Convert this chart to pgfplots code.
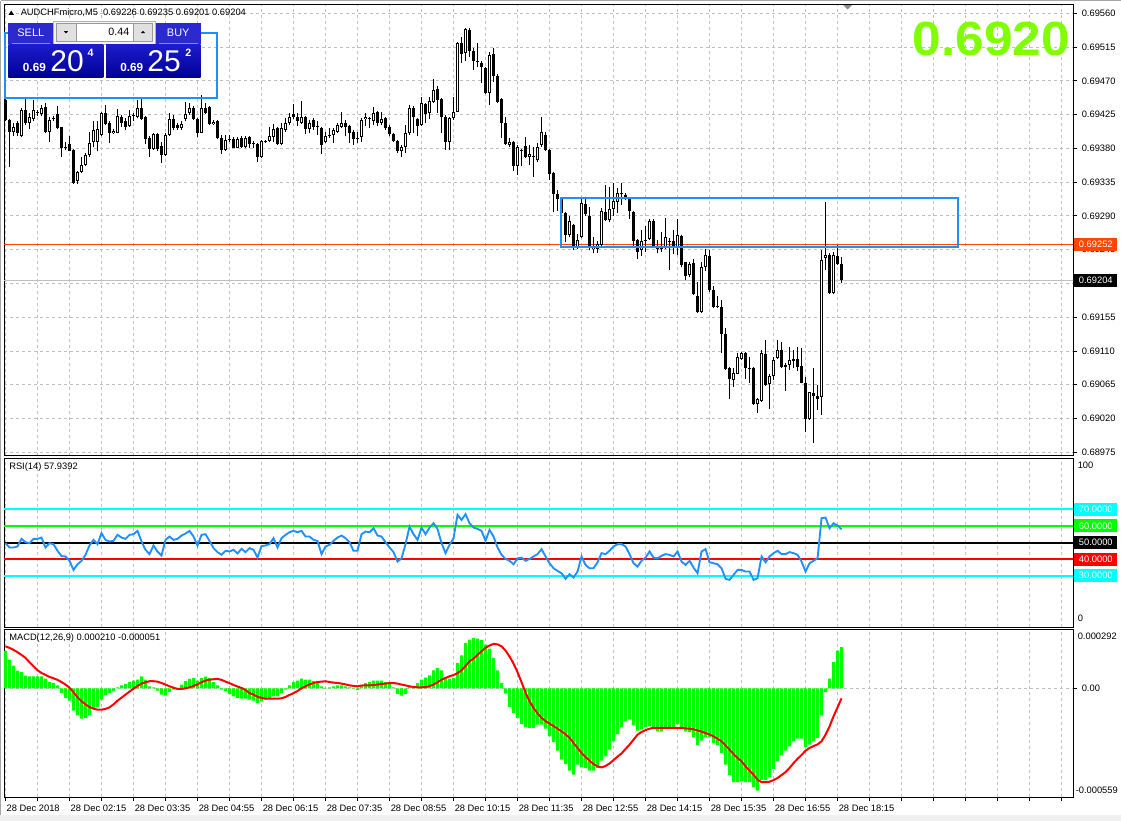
\documentclass[border=0pt]{standalone}
\usepackage{pgfplots}
\pgfplotsset{compat=1.18}
\usepackage{pgfplotstable}
\usepackage{fontspec}
\setmainfont{Liberation Sans}
\usepackage{graphicx}

\definecolor{gridc}{RGB}{192,192,192}
\definecolor{dblue}{RGB}{30,144,255}
\definecolor{ored}{RGB}{255,69,0}
\definecolor{lgreen}{RGB}{127,255,0}
\definecolor{limec}{RGB}{0,255,0}
\definecolor{aqua}{RGB}{0,255,255}
\definecolor{pure red}{RGB}{255,0,0}
\definecolor{btnblue}{RGB}{42,42,206}
\definecolor{boxtop}{RGB}{28,28,205}
\definecolor{boxbot}{RGB}{0,0,150}

\newcommand{\lab}{\fontsize{7}{8.4}\selectfont}

\pgfplotstableread{
i o h l c
0 0.69445 0.69451 0.69416 0.69418
1 0.69418 0.69419 0.69355 0.69402
2 0.69402 0.69414 0.69396 0.69408
3 0.69414 0.69416 0.69396 0.69401
4 0.69396 0.69434 0.69395 0.69431
5 0.69431 0.69449 0.69411 0.69414
6 0.69414 0.69427 0.69406 0.69422
7 0.69419 0.69445 0.69416 0.69431
8 0.69428 0.69431 0.69423 0.69427
9 0.69426 0.69438 0.69423 0.69434
10 0.69435 0.69440 0.69401 0.69402
11 0.69402 0.69422 0.69389 0.69418
12 0.69420 0.69423 0.69416 0.69421
13 0.69426 0.69437 0.69406 0.69407
14 0.69408 0.69409 0.69368 0.69380
15 0.69382 0.69389 0.69378 0.69381
16 0.69386 0.69396 0.69376 0.69377
17 0.69378 0.69379 0.69333 0.69334
18 0.69336 0.69350 0.69333 0.69348
19 0.69349 0.69369 0.69347 0.69358
20 0.69358 0.69374 0.69356 0.69371
21 0.69371 0.69402 0.69369 0.69387
22 0.69388 0.69416 0.69382 0.69404
23 0.69388 0.69416 0.69376 0.69406
24 0.69398 0.69428 0.69396 0.69427
25 0.69427 0.69438 0.69411 0.69413
26 0.69414 0.69416 0.69387 0.69400
27 0.69400 0.69406 0.69399 0.69403
28 0.69401 0.69432 0.69400 0.69423
29 0.69422 0.69425 0.69409 0.69414
30 0.69416 0.69420 0.69404 0.69409
31 0.69410 0.69431 0.69408 0.69423
32 0.69424 0.69427 0.69416 0.69425
33 0.69422 0.69445 0.69420 0.69434
34 0.69434 0.69447 0.69418 0.69419
35 0.69422 0.69423 0.69386 0.69392
36 0.69394 0.69396 0.69369 0.69379
37 0.69379 0.69400 0.69378 0.69399
38 0.69399 0.69401 0.69377 0.69379
39 0.69383 0.69389 0.69361 0.69371
40 0.69371 0.69400 0.69370 0.69398
41 0.69398 0.69427 0.69396 0.69419
42 0.69419 0.69425 0.69404 0.69407
43 0.69411 0.69414 0.69405 0.69407
44 0.69407 0.69416 0.69404 0.69413
45 0.69419 0.69442 0.69416 0.69426
46 0.69427 0.69440 0.69425 0.69434
47 0.69434 0.69436 0.69418 0.69419
48 0.69419 0.69420 0.69395 0.69401
49 0.69401 0.69451 0.69400 0.69434
50 0.69434 0.69440 0.69426 0.69427
51 0.69435 0.69436 0.69411 0.69412
52 0.69412 0.69418 0.69411 0.69415
53 0.69416 0.69418 0.69392 0.69394
54 0.69394 0.69398 0.69373 0.69378
55 0.69378 0.69398 0.69377 0.69391
56 0.69391 0.69398 0.69389 0.69392
57 0.69392 0.69395 0.69380 0.69381
58 0.69381 0.69395 0.69380 0.69392
59 0.69394 0.69396 0.69381 0.69382
60 0.69382 0.69396 0.69380 0.69394
61 0.69395 0.69396 0.69381 0.69386
62 0.69387 0.69390 0.69380 0.69386
63 0.69386 0.69387 0.69362 0.69368
64 0.69368 0.69391 0.69367 0.69390
65 0.69389 0.69391 0.69387 0.69390
66 0.69390 0.69409 0.69388 0.69396
67 0.69395 0.69413 0.69389 0.69406
68 0.69407 0.69408 0.69385 0.69386
69 0.69386 0.69414 0.69384 0.69407
70 0.69405 0.69420 0.69402 0.69414
71 0.69414 0.69427 0.69411 0.69422
72 0.69426 0.69439 0.69419 0.69422
73 0.69422 0.69427 0.69410 0.69416
74 0.69414 0.69443 0.69413 0.69422
75 0.69422 0.69423 0.69399 0.69406
76 0.69406 0.69418 0.69400 0.69414
77 0.69418 0.69420 0.69405 0.69408
78 0.69410 0.69416 0.69398 0.69408
79 0.69407 0.69409 0.69372 0.69384
80 0.69388 0.69402 0.69387 0.69397
81 0.69396 0.69407 0.69394 0.69398
82 0.69398 0.69407 0.69387 0.69405
83 0.69402 0.69414 0.69401 0.69411
84 0.69409 0.69429 0.69407 0.69414
85 0.69414 0.69418 0.69396 0.69408
86 0.69410 0.69411 0.69387 0.69401
87 0.69402 0.69404 0.69385 0.69392
88 0.69393 0.69402 0.69387 0.69394
89 0.69395 0.69420 0.69389 0.69418
90 0.69419 0.69427 0.69410 0.69422
91 0.69420 0.69422 0.69407 0.69421
92 0.69417 0.69435 0.69411 0.69427
93 0.69428 0.69430 0.69410 0.69414
94 0.69414 0.69429 0.69411 0.69419
95 0.69420 0.69422 0.69404 0.69407
96 0.69408 0.69411 0.69396 0.69399
97 0.69399 0.69400 0.69388 0.69390
98 0.69390 0.69391 0.69374 0.69377
99 0.69376 0.69385 0.69368 0.69382
100 0.69382 0.69411 0.69374 0.69400
101 0.69400 0.69438 0.69398 0.69434
102 0.69434 0.69436 0.69400 0.69422
103 0.69419 0.69420 0.69396 0.69410
104 0.69411 0.69449 0.69410 0.69440
105 0.69439 0.69441 0.69414 0.69426
106 0.69427 0.69449 0.69419 0.69443
107 0.69442 0.69473 0.69441 0.69458
108 0.69459 0.69463 0.69427 0.69445
109 0.69446 0.69447 0.69400 0.69422
110 0.69422 0.69425 0.69378 0.69389
111 0.69389 0.69422 0.69378 0.69420
112 0.69420 0.69449 0.69418 0.69429
113 0.69429 0.69522 0.69428 0.69521
114 0.69520 0.69529 0.69494 0.69506
115 0.69507 0.69540 0.69496 0.69539
116 0.69538 0.69540 0.69502 0.69510
117 0.69510 0.69514 0.69485 0.69496
118 0.69497 0.69521 0.69489 0.69495
119 0.69494 0.69497 0.69467 0.69488
120 0.69487 0.69489 0.69453 0.69454
121 0.69454 0.69509 0.69438 0.69505
122 0.69506 0.69514 0.69469 0.69477
123 0.69477 0.69479 0.69440 0.69442
124 0.69446 0.69447 0.69394 0.69414
125 0.69414 0.69422 0.69385 0.69386
126 0.69385 0.69394 0.69382 0.69389
127 0.69389 0.69390 0.69350 0.69357
128 0.69357 0.69385 0.69345 0.69382
129 0.69377 0.69379 0.69356 0.69378
130 0.69383 0.69395 0.69367 0.69368
131 0.69368 0.69385 0.69358 0.69372
132 0.69369 0.69382 0.69342 0.69370
133 0.69364 0.69387 0.69362 0.69382
134 0.69385 0.69422 0.69382 0.69402
135 0.69398 0.69402 0.69376 0.69378
136 0.69378 0.69379 0.69338 0.69346
137 0.69347 0.69348 0.69295 0.69319
138 0.69319 0.69325 0.69297 0.69312
139 0.69312 0.69314 0.69289 0.69294
140 0.69294 0.69295 0.69255 0.69264
141 0.69264 0.69290 0.69262 0.69283
142 0.69278 0.69279 0.69245 0.69250
143 0.69247 0.69266 0.69246 0.69258
144 0.69262 0.69312 0.69260 0.69307
145 0.69306 0.69314 0.69290 0.69292
146 0.69290 0.69302 0.69244 0.69249
147 0.69246 0.69262 0.69240 0.69249
148 0.69246 0.69257 0.69240 0.69252
149 0.69251 0.69300 0.69250 0.69297
150 0.69295 0.69331 0.69283 0.69285
151 0.69285 0.69329 0.69282 0.69299
152 0.69299 0.69334 0.69290 0.69310
153 0.69309 0.69327 0.69294 0.69320
154 0.69319 0.69334 0.69305 0.69320
155 0.69318 0.69321 0.69311 0.69312
156 0.69312 0.69314 0.69286 0.69297
157 0.69295 0.69296 0.69250 0.69257
158 0.69258 0.69259 0.69232 0.69242
159 0.69244 0.69271 0.69237 0.69256
160 0.69256 0.69276 0.69242 0.69258
161 0.69259 0.69286 0.69258 0.69283
162 0.69283 0.69286 0.69247 0.69249
163 0.69250 0.69258 0.69240 0.69246
164 0.69246 0.69269 0.69242 0.69248
165 0.69247 0.69287 0.69246 0.69262
166 0.69257 0.69260 0.69218 0.69256
167 0.69257 0.69271 0.69239 0.69249
168 0.69249 0.69286 0.69238 0.69265
169 0.69263 0.69265 0.69222 0.69224
170 0.69228 0.69229 0.69204 0.69210
171 0.69211 0.69228 0.69209 0.69226
172 0.69227 0.69232 0.69185 0.69186
173 0.69183 0.69202 0.69161 0.69162
174 0.69162 0.69228 0.69161 0.69222
175 0.69222 0.69246 0.69216 0.69238
176 0.69237 0.69244 0.69189 0.69191
177 0.69191 0.69196 0.69167 0.69168
178 0.69170 0.69183 0.69167 0.69169
179 0.69168 0.69178 0.69108 0.69133
180 0.69133 0.69140 0.69085 0.69086
181 0.69087 0.69089 0.69046 0.69073
182 0.69072 0.69087 0.69062 0.69081
183 0.69080 0.69107 0.69079 0.69102
184 0.69100 0.69109 0.69098 0.69107
185 0.69108 0.69109 0.69073 0.69087
186 0.69087 0.69102 0.69068 0.69086
187 0.69088 0.69089 0.69038 0.69039
188 0.69039 0.69047 0.69027 0.69046
189 0.69044 0.69111 0.69042 0.69108
190 0.69106 0.69125 0.69063 0.69065
191 0.69066 0.69080 0.69033 0.69077
192 0.69077 0.69102 0.69071 0.69098
193 0.69101 0.69125 0.69100 0.69112
194 0.69112 0.69122 0.69088 0.69089
195 0.69091 0.69094 0.69057 0.69089
196 0.69092 0.69116 0.69085 0.69098
197 0.69097 0.69111 0.69087 0.69099
198 0.69099 0.69115 0.69083 0.69089
199 0.69090 0.69114 0.69067 0.69068
200 0.69068 0.69076 0.69002 0.69019
201 0.69019 0.69056 0.69018 0.69055
202 0.69054 0.69088 0.68987 0.69050
203 0.69050 0.69065 0.69032 0.69046
204 0.69049 0.69245 0.69025 0.69231
205 0.69234 0.69309 0.69218 0.69238
206 0.69238 0.69240 0.69186 0.69187
207 0.69187 0.69242 0.69186 0.69238
208 0.69237 0.69251 0.69225 0.69226
209 0.69226 0.69235 0.69201 0.69204
}\candles

\pgfplotstableread{
i r
0 49.6
1 47.0
2 47.0
3 47.6
4 52.2
5 50.2
6 49.6
7 52.2
8 52.2
9 53.0
10 47.0
11 49.6
12 49.0
13 45.0
14 41.8
15 41.6
16 39.0
17 33.5
18 36.9
19 38.9
20 42.6
21 48.2
22 51.6
23 49.0
24 55.6
25 51.6
26 50.6
27 51.0
28 54.6
29 53.0
30 52.2
31 54.6
32 55.0
33 57.0
34 50.6
35 45.6
36 43.0
37 48.2
38 44.6
39 42.2
40 51.6
41 53.6
42 51.6
43 52.2
44 54.2
45 55.4
46 57.0
47 53.6
48 48.2
49 54.6
50 55.0
51 51.0
52 46.6
53 44.2
54 42.6
55 45.0
56 44.6
57 45.6
58 43.4
59 46.2
60 44.2
61 46.6
62 45.6
63 41.0
64 47.8
65 48.2
66 49.0
67 52.6
68 47.0
69 52.6
70 54.6
71 56.2
72 57.0
73 56.2
74 57.0
75 53.6
76 53.6
77 51.6
78 51.0
79 43.0
80 47.6
81 48.6
82 51.0
83 53.0
84 54.2
85 52.6
86 50.2
87 45.0
88 45.0
89 55.0
90 56.6
91 56.2
92 58.6
93 54.2
94 53.6
95 50.2
96 47.0
97 44.2
98 38.5
99 40.5
100 49.0
101 59.6
102 55.0
103 51.6
104 59.0
105 55.0
106 59.0
107 61.6
108 58.2
109 49.6
110 43.6
111 48.6
112 52.6
113 66.7
114 63.6
115 67.1
116 61.6
117 59.0
118 58.2
119 57.0
120 51.0
121 57.6
122 53.6
123 47.0
124 42.6
125 40.1
126 39.0
127 36.9
128 40.5
129 40.9
130 39.0
131 40.1
132 41.6
133 43.0
134 46.0
135 41.6
136 37.5
137 34.5
138 32.9
139 31.5
140 28.1
141 30.9
142 28.9
143 32.5
144 41.6
145 36.5
146 34.5
147 34.5
148 38.1
149 43.6
150 43.0
151 45.0
152 47.6
153 49.0
154 49.0
155 47.6
156 43.0
157 37.5
158 35.5
159 39.0
160 40.9
161 44.6
162 40.9
163 40.5
164 42.0
165 43.0
166 42.6
167 41.6
168 44.6
169 38.5
170 36.5
171 39.0
172 34.9
173 31.5
174 44.6
175 46.0
176 38.1
177 37.5
178 36.9
179 34.5
180 28.1
181 27.5
182 30.5
183 33.5
184 33.5
185 32.5
186 32.5
187 27.5
188 28.5
189 41.6
190 38.1
191 41.6
192 43.6
193 45.0
194 43.0
195 43.0
196 44.2
197 43.6
198 42.6
199 38.5
200 32.5
201 37.5
202 39.0
203 40.5
204 64.7
205 65.0
206 58.6
207 61.6
208 60.2
209 57.94
}\rsi

\pgfplotstableread{
i m s
0 0.000189 0.000214
1 0.000143 0.000206
2 0.000116 0.000196
3 0.000090 0.000184
4 0.000082 0.000170
5 0.000065 0.000155
6 0.000061 0.000133
7 0.000061 0.000112
8 0.000061 0.000092
9 0.000061 0.000078
10 0.000049 0.000068
11 0.000032 0.000058
12 0.000027 0.000051
13 0.000015 0.000043
14 -0.000024 0.000032
15 -0.000049 0.000019
16 -0.000063 0.000003
17 -0.000114 -0.000020
18 -0.000138 -0.000046
19 -0.000155 -0.000066
20 -0.000151 -0.000082
21 -0.000138 -0.000095
22 -0.000105 -0.000104
23 -0.000097 -0.000109
24 -0.000058 -0.000109
25 -0.000036 -0.000105
26 -0.000024 -0.000097
27 -0.000015 -0.000082
28 0.000005 -0.000063
29 0.000015 -0.000048
30 0.000022 -0.000032
31 0.000032 -0.000017
32 0.000039 -0.000002
33 0.000044 0.000012
34 0.000061 0.000024
35 0.000044 0.000031
36 0.000010 0.000036
37 0.000005 0.000036
38 -0.000012 0.000034
39 -0.000032 0.000027
40 -0.000037 0.000019
41 -0.000019 0.000010
42 -0.000007 0.000003
43 -0.000002 -0.000003
44 0.000019 -0.000003
45 0.000036 0.000000
46 0.000048 0.000005
47 0.000053 0.000012
48 0.000039 0.000020
49 0.000053 0.000031
50 0.000060 0.000039
51 0.000053 0.000044
52 0.000031 0.000046
53 0.000015 0.000048
54 -0.000007 0.000043
55 -0.000015 0.000034
56 -0.000029 0.000026
57 -0.000041 0.000017
58 -0.000049 0.000009
59 -0.000053 0.000002
60 -0.000053 -0.000009
61 -0.000058 -0.000024
62 -0.000063 -0.000032
63 -0.000075 -0.000043
64 -0.000066 -0.000049
65 -0.000058 -0.000053
66 -0.000053 -0.000053
67 -0.000041 -0.000053
68 -0.000041 -0.000053
69 -0.000024 -0.000051
70 -0.000007 -0.000044
71 0.000015 -0.000034
72 0.000032 -0.000024
73 0.000039 -0.000014
74 0.000049 0.000000
75 0.000044 0.000010
76 0.000044 0.000020
77 0.000036 0.000027
78 0.000027 0.000032
79 0.000010 0.000034
80 0.000002 0.000036
81 0.000005 0.000032
82 0.000010 0.000029
83 0.000015 0.000027
84 0.000015 0.000024
85 0.000010 0.000020
86 0.000005 0.000015
87 -0.000002 0.000012
88 -0.000008 0.000010
89 0.000010 0.000014
90 0.000027 0.000015
91 0.000032 0.000015
92 0.000039 0.000017
93 0.000039 0.000019
94 0.000039 0.000022
95 0.000032 0.000024
96 0.000022 0.000027
97 0.000005 0.000027
98 -0.000029 0.000024
99 -0.000037 0.000019
100 -0.000029 0.000015
101 0.000010 0.000010
102 0.000002 0.000007
103 0.000027 0.000005
104 0.000044 0.000005
105 0.000055 0.000006
106 0.000066 0.000011
107 0.000092 0.000019
108 0.000104 0.000031
109 0.000092 0.000044
110 0.000053 0.000053
111 0.000049 0.000061
112 0.000053 0.000068
113 0.000129 0.000077
114 0.000168 0.000092
115 0.000231 0.000114
116 0.000248 0.000138
117 0.000257 0.000151
118 0.000253 0.000170
119 0.000245 0.000189
120 0.000223 0.000207
121 0.000202 0.000218
122 0.000155 0.000226
123 0.000092 0.000224
124 0.000027 0.000214
125 -0.000027 0.000192
126 -0.000095 0.000162
127 -0.000126 0.000126
128 -0.000151 0.000082
129 -0.000182 0.000031
130 -0.000199 -0.000022
131 -0.000202 -0.000066
132 -0.000202 -0.000100
133 -0.000185 -0.000128
134 -0.000185 -0.000151
135 -0.000206 -0.000167
136 -0.000245 -0.000180
137 -0.000274 -0.000192
138 -0.000318 -0.000206
139 -0.000364 -0.000219
140 -0.000386 -0.000235
141 -0.000420 -0.000252
142 -0.000440 -0.000279
143 -0.000389 -0.000303
144 -0.000403 -0.000330
145 -0.000406 -0.000350
146 -0.000420 -0.000369
147 -0.000420 -0.000386
148 -0.000406 -0.000398
149 -0.000369 -0.000403
150 -0.000347 -0.000396
151 -0.000313 -0.000383
152 -0.000270 -0.000366
153 -0.000233 -0.000348
154 -0.000199 -0.000332
155 -0.000168 -0.000309
156 -0.000160 -0.000287
157 -0.000189 -0.000262
158 -0.000216 -0.000236
159 -0.000211 -0.000223
160 -0.000199 -0.000213
161 -0.000194 -0.000206
162 -0.000199 -0.000201
163 -0.000219 -0.000201
164 -0.000219 -0.000202
165 -0.000202 -0.000202
166 -0.000202 -0.000202
167 -0.000199 -0.000202
168 -0.000182 -0.000202
169 -0.000202 -0.000202
170 -0.000219 -0.000204
171 -0.000223 -0.000206
172 -0.000250 -0.000209
173 -0.000291 -0.000214
174 -0.000267 -0.000221
175 -0.000250 -0.000228
176 -0.000250 -0.000235
177 -0.000279 -0.000245
178 -0.000291 -0.000257
179 -0.000330 -0.000270
180 -0.000389 -0.000291
181 -0.000444 -0.000313
182 -0.000478 -0.000335
183 -0.000478 -0.000355
184 -0.000474 -0.000372
185 -0.000478 -0.000398
186 -0.000478 -0.000420
187 -0.000505 -0.000440
188 -0.000522 -0.000466
189 -0.000466 -0.000478
190 -0.000466 -0.000478
191 -0.000454 -0.000476
192 -0.000410 -0.000468
193 -0.000372 -0.000457
194 -0.000342 -0.000442
195 -0.000318 -0.000427
196 -0.000296 -0.000406
197 -0.000270 -0.000381
198 -0.000257 -0.000359
199 -0.000257 -0.000340
200 -0.000299 -0.000318
201 -0.000287 -0.000304
202 -0.000270 -0.000294
203 -0.000253 -0.000286
204 -0.000139 -0.000270
205 -0.000019 -0.000236
206 0.000049 -0.000194
207 0.000134 -0.000143
208 0.000192 -0.000097
209 0.000210 -0.000051
}\macd

\pgfplotsset{
  mtbase/.style={
    scale only axis, width=801.75pt, anchor=north west,
    xmin=-0.375, xmax=266.875,
    axis line style={black, line width=0.75pt},
    xtick={0,8,...,264},
    xmajorgrids,
    grid style={gridc, line width=0.75pt, dash pattern=on 2.25pt off 2.25pt},
    tick align=outside,
    major tick length=3pt,
    ticklabel style={font=\lab, text=black},
    scaled y ticks=false,
  }
}

\begin{document}
\begin{tikzpicture}
\begin{scope}[x=0.75pt,y=-0.75pt]
  \fill[white] (0,0) rectangle (1121,821);
  \fill[black!6] (0,815) rectangle (1121,821);
  \draw[black!35, line width=0.75pt] (0.5,0.5) -- (1120.5,0.5);
  \draw[black!35, line width=0.75pt] (0.5,0.5) -- (0.5,815);
\end{scope}

% ---------------- price panel ----------------
\begin{axis}[mtbase, at={(3pt,-3pt)}, height=338.775pt,
  ymin=0.6897050, ymax=0.6957239,
  xticklabels={}, x tick style={draw=none},
  ytick={0.68975,0.69020,0.69065,0.69110,0.69155,0.69200,0.69245,0.69290,0.69335,0.69380,0.69425,0.69470,0.69515,0.69560},
  yticklabels={0.68975,0.69020,0.69065,0.69110,0.69155,{},0.69245,0.69290,0.69335,0.69380,0.69425,0.69470,0.69515,0.69560},
  ymajorgrids, ytick pos=right, yticklabel pos=right,
  y tick style={black, line width=0.75pt},
  yticklabel style={anchor=west},
]
\addplot[gridc, line width=0.75pt] coordinates {(-1,0.69204) (268,0.69204)};
\addplot[ored, line width=0.75pt] coordinates {(-1,0.69252) (268,0.69252)};
% wicks
\addplot[black, line width=0.75pt, quiver={u=0, v=\thisrow{h}-\thisrow{l}}] table[x=i, y=l] {\candles};
% bodies
\addplot[black, line width=2.25pt, quiver={u=0, v=\thisrow{c}-\thisrow{o}}] table[x=i, y=o] {\candles};
% hollow interior of rising candles
\addplot[white, line width=0.75pt, quiver={u=0, v=\thisrow{c}-\thisrow{o}-0.0000266},
  restrict expr to domain={\thisrow{c}-\thisrow{o}}{0.00003:1}]
  table[x=i, y expr=\thisrow{o}+0.0000133] {\candles};
\end{axis}

% ---------------- RSI panel ----------------
\begin{axis}[mtbase, at={(3pt,-343.725pt)}, height=126.75pt,
  ymin=-1.08, ymax=100.72,
  xticklabels={}, x tick style={draw=none}, ytick=\empty,
]
\addplot[aqua, line width=1.5pt] coordinates {(-1,70) (268,70)};
\addplot[aqua, line width=1.5pt] coordinates {(-1,30) (268,30)};
\addplot[limec, line width=1.5pt] coordinates {(-1,60) (268,60)};
\addplot[pure red, line width=1.5pt] coordinates {(-1,40) (268,40)};
\addplot[black, line width=1.5pt] coordinates {(-1,50) (268,50)};
\addplot[dblue, line width=1.4pt] table[x=i, y=r] {\rsi};
\end{axis}

% ---------------- MACD panel ----------------
\begin{axis}[mtbase, at={(3pt,-472.125pt)}, height=125.625pt,
  ymin=-0.0005539, ymax=0.0002996,
  xtick pos=bottom,
  x tick style={black, line width=0.75pt},
  xticklabels={{28 Dec 2018},{},{28 Dec 02:15},{},{28 Dec 03:35},{},{28 Dec 04:55},{},{28 Dec 06:15},{},{28 Dec 07:35},{},{28 Dec 08:55},{},{28 Dec 10:15},{},{28 Dec 11:35},{},{28 Dec 12:55},{},{28 Dec 14:15},{},{28 Dec 15:35},{},{28 Dec 16:55},{},{28 Dec 18:15},{},{},{},{},{},{},{}},
  xticklabel style={anchor=north west, xshift=-2.6pt, yshift=0.5pt},
  ytick={0}, yticklabels={0.00}, ymajorgrids,
  ytick pos=right, yticklabel pos=right,
  y tick style={black, line width=0.75pt},
  yticklabel style={anchor=west},
]
\addplot[ybar, bar width=2.25pt, bar shift=0pt, fill=limec, draw=none] table[x=i, y=m] {\macd};
\addplot[pure red, line width=1.5pt] table[x=i, y=s] {\macd};
\end{axis}

% ---------------- decorations ----------------
\begin{scope}[x=0.75pt,y=-0.75pt]
  % rectangle objects
  \draw[dblue, line width=1.5pt] (5,33.3) rectangle (217.3,98.3);
  \draw[dblue, line width=1.5pt] (560.7,197.7) rectangle (958,246.7);
  % header
  \fill[black] (8.5,14.8) -- (14,14.8) -- (11.25,10.6) -- cycle;
  \node[anchor=west, inner sep=0pt, font=\lab] at (20.5,12.8) {AUDCHFmicro,M5\ \ 0.69226 0.69235 0.69201 0.69204};
  \fill[black!45] (843,5) -- (852,5) -- (847.5,9.5) -- cycle;
  % one click trading panel
  \fill[black!5] (53.3,21.7) rectangle (155.7,44);
  \draw[black!30, line width=0.5pt] (53.3,21.7) rectangle (155.7,44);
  \fill[btnblue] (8.3,22.7) rectangle (53.3,44);
  \fill[btnblue] (155.7,22.7) rectangle (200.7,44);
  \draw[white!45!btnblue, line width=0.75pt] (11.5,43.3) -- (50,43.3);
  \draw[white!45!btnblue, line width=0.75pt] (159,43.3) -- (197.5,43.3);
  \node[text=white, font=\fontsize{8.2}{9}\selectfont] at (30.8,32.3) {SELL};
  \node[text=white, font=\fontsize{8.2}{9}\selectfont] at (178.2,32.3) {BUY};
  \fill[black!12] (56.5,23) rectangle (76,41.5);
  \draw[black!40, line width=0.5pt] (56.5,23) rectangle (76,41.5);
  \fill[black] (63.8,31) -- (68.2,31) -- (66,33.4) -- cycle;
  \fill[white] (76,23) rectangle (133.3,41.5);
  \draw[black!40, line width=0.5pt] (76,23) rectangle (133.3,41.5);
  \node[anchor=east, inner sep=0pt, font=\fontsize{8}{9}\selectfont] at (129.5,32.3) {0.44};
  \fill[black!12] (133.3,23) rectangle (152.5,41.5);
  \draw[black!40, line width=0.5pt] (133.3,23) rectangle (152.5,41.5);
  \fill[black] (140.8,33.2) -- (145.2,33.2) -- (143,30.8) -- cycle;
  \shade[top color=boxtop, bottom color=boxbot] (8.3,44) rectangle (103.3,77.7);
  \shade[top color=boxtop, bottom color=boxbot] (106,44) rectangle (200.7,77.7);
  \node[anchor=base west, inner sep=0pt, text=white, font=\fontsize{8.8}{9}\selectfont\bfseries] at (22.7,71) {0.69};
  \node[anchor=base west, inner sep=0pt, text=white, font=\fontsize{22.5}{23}\selectfont] at (50.2,71.7) {20};
  \node[anchor=base west, inner sep=0pt, text=white, font=\fontsize{8}{8}\selectfont\bfseries] at (87.3,56.9) {4};
  \node[anchor=base west, inner sep=0pt, text=white, font=\fontsize{8.8}{9}\selectfont\bfseries] at (120,71) {0.69};
  \node[anchor=base west, inner sep=0pt, text=white, font=\fontsize{22.5}{23}\selectfont] at (147.2,71.7) {25};
  \node[anchor=base west, inner sep=0pt, text=white, font=\fontsize{8}{8}\selectfont\bfseries] at (185,56.9) {2};
  % big price
  \node[anchor=base east, inner sep=0pt, text=lgreen] at (1070,55) {\scalebox{1.07}[1]{\fontsize{36}{36}\selectfont\bfseries 0.6920}};
  % panel titles
  \node[anchor=west, inner sep=0pt, font=\lab] at (9,467) {RSI(14) 57.9392};
  \node[anchor=west, inner sep=0pt, font=\lab] at (9,638) {MACD(12,26,9) 0.000210 -0.000051};
  % right-hand price boxes
  \node[fill=ored, text=white, font=\lab, minimum width=32.25pt, minimum height=9.75pt, inner sep=0pt, anchor=west] at (1074,244.4) {0.69252};
  \node[fill=black, text=white, font=\lab, minimum width=32.25pt, minimum height=9.75pt, inner sep=0pt, anchor=west] at (1074,280.5) {0.69204};
  % RSI level boxes
  \node[anchor=west, inner sep=0pt, font=\lab] at (1077.5,465) {100};
  \node[anchor=west, inner sep=0pt, font=\lab] at (1077.5,618.5) {0};
  \node[fill=aqua, text=white, font=\lab, minimum width=32.25pt, minimum height=9.75pt, inner sep=0pt, anchor=west] at (1074,509.3) {70.0000};
  \node[fill=limec, text=white, font=\lab, minimum width=32.25pt, minimum height=9.75pt, inner sep=0pt, anchor=west] at (1074,525.9) {60.0000};
  \node[fill=black, text=white, font=\lab, minimum width=32.25pt, minimum height=9.75pt, inner sep=0pt, anchor=west] at (1074,542.5) {50.0000};
  \node[fill=pure red, text=white, font=\lab, minimum width=32.25pt, minimum height=9.75pt, inner sep=0pt, anchor=west] at (1074,559.1) {40.0000};
  \node[fill=aqua, text=white, font=\lab, minimum width=32.25pt, minimum height=9.75pt, inner sep=0pt, anchor=west] at (1074,575.7) {30.0000};
  % MACD labels
  \node[anchor=west, inner sep=0pt, font=\lab] at (1077.5,636.5) {0.000292};
  \node[anchor=west, inner sep=0pt, font=\lab] at (1075.5,790) {-0.000559};
\end{scope}
\pgfresetboundingbox
\path[use as bounding box] (0,0) rectangle (840.75pt,-615.75pt);
\end{tikzpicture}
\end{document}
